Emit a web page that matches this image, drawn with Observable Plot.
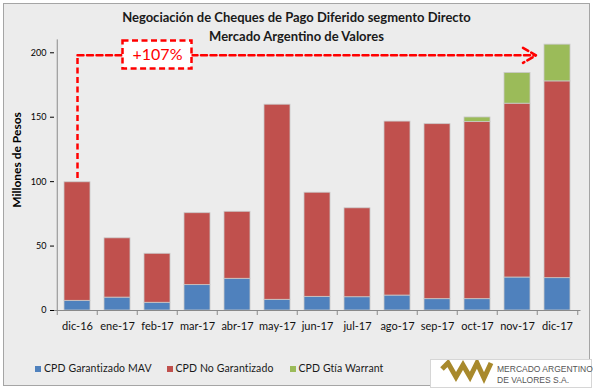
<!DOCTYPE html>
<html>
<head>
<meta charset="utf-8">
<script src="https://cdn.jsdelivr.net/npm/d3@7"></script>
<script src="https://cdn.jsdelivr.net/npm/@observablehq/plot@0.6"></script>
<style>
  html, body { margin: 0; padding: 0; background: #ffffff; }
  #wrap { position: relative; width: 593px; height: 389px; overflow: hidden; font-family: Lato, "Open Sans", sans-serif; }
  #frame { position: absolute; left: 3px; top: 3px; width: 585px; height: 381px; background: #ececec; border: 1.5px solid #a5a5a5; }
  #chart { position: absolute; left: 0; top: 0; }
  .title { position: absolute; left: 0; width: 593px; text-align: center; font-weight: bold; font-size: 13px; color: #1a1a1a; }
  #ylab { position: absolute; left: 16px; top: 160px; transform: translate(-50%, -50%) rotate(-90deg); font-weight: bold; font-size: 12px; white-space: nowrap; color: #000; }
  .leg { position: absolute; top: 362px; font-size: 10.5px; letter-spacing: 0.1px; color: #1a1a1a; white-space: nowrap; }
  .leg span.sw { display: inline-block; width: 6px; height: 6px; margin-right: 3px; vertical-align: 0px; }
  #logo { position: absolute; left: 430px; top: 359px; width: 160px; height: 27px; background: #ffffff; border: 1px solid #d6d6d6; }
  #logo .t { position: absolute; left: 66px; font-family: "Liberation Sans Narrow", "Liberation Sans", sans-serif; font-size: 8.5px; color: #555; white-space: nowrap; }
</style>
</head>
<body>
<div id="wrap">
  <div id="frame"></div>
  <div id="chart"></div>
  <div class="title" style="top:9px">Negociación de Cheques de Pago Diferido segmento Directo</div>
  <div class="title" style="top:28px">Mercado Argentino de Valores</div>
  <div id="ylab">Millones de Pesos</div>
  <div id="legend"></div>
  <div id="logo">
    <svg width="60" height="27" style="position:absolute;left:6px;top:0">
      <polyline points="5,9 11,3 19,17 26,5 33,17 40,3 47,18 54,3" fill="none" stroke="#a8892c" stroke-width="5" stroke-linejoin="miter"/>
    </svg>
    <div class="t" style="top:4px">MERCADO ARGENTINO</div>
    <div class="t" style="top:15px">DE VALORES S.A.</div>
  </div>
</div>
<script>
const months = ["dic-16","ene-17","feb-17","mar-17","abr-17","may-17","jun-17","jul-17","ago-17","sep-17","oct-17","nov-17","dic-17"];
const garantizado = [7.5, 10, 6, 19.7, 24.6, 8.3, 10.6, 10.3, 11.6, 8.8, 8.8, 25.6, 25.1];
const noGarantizado = [92, 46, 38, 55.8, 52, 151.4, 80.8, 69, 135, 135.8, 137.4, 134.9, 152.7];
const warrant = [0, 0, 0, 0, 0, 0, 0, 0, 0, 0, 3.6, 23.8, 28.5];
const series = ["CPD Garantizado MAV", "CPD No Garantizado", "CPD Gtía Warrant"];
const colors = ["#4f81bd", "#c0504d", "#9bbb59"];
const yTicks = [0, 50, 100, 150, 200];
const annotation = {from: "dic-16", to: "dic-17", label: "+107%", labelAt: "feb-17", start: 102.5, level: 198, boxLow: 187.4, boxHigh: 209.2};

const rows = [];
months.forEach((m, i) => {
  [garantizado[i], noGarantizado[i], warrant[i]].forEach((v, j) => {
    if (v > 0) rows.push({month: m, serie: series[j], value: v});
  });
});

const step = (580.5 - 54) / months.length;
const red = "#ff0000";

const chart = Plot.plot({
  width: 593,
  height: 389,
  marginLeft: 54,
  marginRight: 12.5,
  marginTop: 39.4,
  marginBottom: 79,
  style: {background: "transparent", fontFamily: "Lato, sans-serif", fontSize: "9px", color: "#000"},
  x: {domain: months, paddingInner: 0.35, paddingOuter: 0.175, axis: null},
  y: {domain: [0, 210], ticks: yTicks, tickSize: 4, tickPadding: 4, label: null, tickFormat: d => d},
  color: {domain: series, range: colors},
  marks: [
    Plot.barY(rows, {x: "month", y: "value", fill: "serie", stroke: "#c9c9c9", strokeWidth: 0.8}),
    Plot.ruleY([0], {stroke: "#8a8a8a", strokeWidth: 1}),
    Plot.ruleX([months[0]], {y1: 0, y2: 210, dx: -step / 2, stroke: "#8a8a8a", strokeWidth: 1}),
    Plot.ruleX(months, {y1: 0, y2: -3.9, dx: -step / 2, stroke: "#8a8a8a"}),
    Plot.ruleX([months[months.length - 1]], {y1: 0, y2: -3.9, dx: step / 2, stroke: "#8a8a8a"}),
    Plot.text(months, {x: d => d, y: 0, dy: 16, text: d => d, fontSize: 11, fill: "#111"}),
    Plot.ruleX([annotation.from], {y1: annotation.start, y2: annotation.level, stroke: red, strokeWidth: 2.5, strokeDasharray: "6,3.5"}),
    Plot.arrow([annotation], {x1: "from", x2: "to", y1: "level", y2: "level", insetEnd: 21.5, stroke: red, strokeWidth: 2.5, strokeDasharray: "6,3.5", headLength: 9, bend: 0}),
    Plot.barY([annotation], {x: "labelAt", y1: "boxLow", y2: "boxHigh", insetLeft: -21.5, insetRight: -21.5, fill: "#ffffff", stroke: red, strokeWidth: 2.5, strokeDasharray: "6,3.5"}),
    Plot.text([annotation], {x: "labelAt", y: a => (a.boxLow + a.boxHigh) / 2, text: "label", fill: red, fontSize: 16, fontWeight: "normal"})
  ]
});
document.getElementById("chart").appendChild(chart);

const legend = document.getElementById("legend");
const legX = [35, 166.5, 289.5];
series.forEach((s, i) => {
  const d = document.createElement("div");
  d.className = "leg";
  d.style.left = legX[i] + "px";
  d.innerHTML = `<span class="sw" style="background:${colors[i]}"></span>${s}`;
  legend.appendChild(d);
});
</script>
</body>
</html>
